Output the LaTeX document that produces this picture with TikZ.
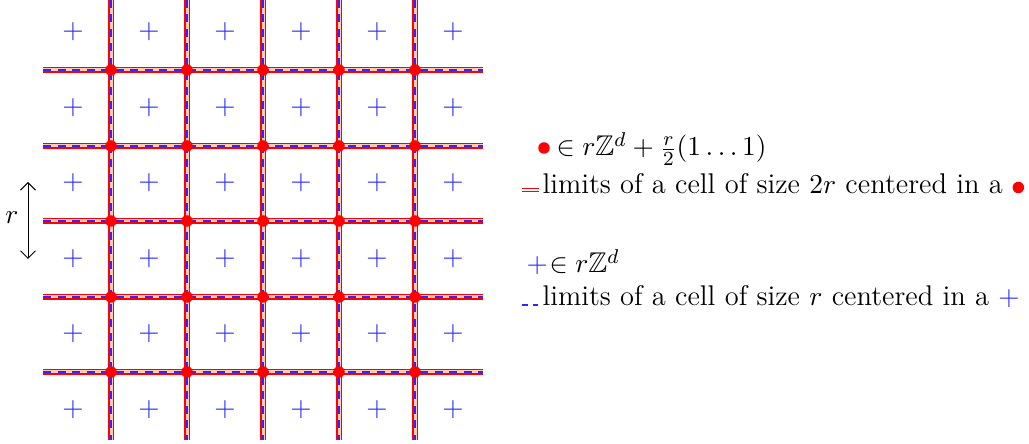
\documentclass[tikz,border=0pt]{standalone}
\usepackage{amsmath,amssymb}
\usetikzlibrary{arrows.meta}
\definecolor{cellinner}{RGB}{255,200,185}
\definecolor{plusblue}{RGB}{40,40,255}
\newcommand{\legfont}{\fontsize{11.4}{14}\selectfont}
\tikzset{
  bigcell/.style={draw=red,double=cellinner,double distance=1.2pt,line width=0.5pt},
  smallcell/.style={draw=plusblue,line width=0.7pt,dash pattern=on 3.2pt off 2.6pt},
  reddot/.style={circle,fill=red,inner sep=0pt,minimum size=4.6pt},
  plusmark/.style={text=plusblue,inner sep=0pt,font=\legfont},
  legendtext/.style={anchor=base west,inner sep=0pt,font=\legfont},
}
\begin{document}
\begin{tikzpicture}[x=0.4pt,y=-0.4pt]
\useasboundingbox (0,0) rectangle (1029,444);
\def\ys{{70,146,221,297,372}}
\def\py{{32,108,183,259,334,410}}
% red double lines
\foreach \i in {0,...,4}{
  \pgfmathsetmacro{\yy}{\ys[\i]}
  \draw[bigcell] (111+76*\i,0) -- (111+76*\i,440);
  \draw[bigcell] (43,\yy) -- (483,\yy);
}
% blue dashed lines
\foreach \i in {0,...,4}{
  \pgfmathsetmacro{\yy}{\ys[\i]}
  \draw[smallcell] (111+76*\i,0) -- (111+76*\i,440);
  \draw[smallcell] (43,\yy) -- (483,\yy);
}
% dots
\foreach \i in {0,...,4}{
  \foreach \j in {0,...,4}{
    \pgfmathsetmacro{\yy}{\ys[\j]}
    \node[reddot] (d\i\j) at (111+76*\i,\yy) {};
  }
}
% pluses
\foreach \i in {0,...,5}{
  \foreach \j in {0,...,5}{
    \pgfmathsetmacro{\yy}{\py[\j]}
    \node[plusmark] (p\i\j) at (73+76*\i,\yy) {$+$};
  }
}
% r arrow
\coordinate (rtop) at (28,182);
\coordinate (rbot) at (28,259);
\draw[{Straight Barb[length=3pt]}-{Straight Barb[length=3pt]},line width=0.4pt] (rtop) -- (rbot);
\node[font=\legfont] (rlab) at (12,218) {$r$};
% legend
\node[reddot] (ldot) at (544,148) {};
\node[legendtext] (l1) at (556,156) {$\in r\mathbb{Z}^d+\frac{r}{2}(1\ldots1)$};
\coordinate (ls1) at (522,190);
\coordinate (le1) at (539,190);
\draw[red,double=white,double distance=1pt,line width=0.35pt] (ls1) -- (le1);
\node[legendtext] (l2) at (542,194) {limits of a cell of size $2r$ centered in a};
\node[reddot] (ldot2) at ([xshift=6pt,yshift=2.6pt]l2.base east) {};
\node[legendtext,text=plusblue] (lp) at (526,273) {$+$};
\node[legendtext] (l3) at (549,273) {$\in r\mathbb{Z}^d$};
\coordinate (ls2) at (522,305);
\coordinate (le2) at (538,305);
\draw[plusblue,line width=0.5pt,dash pattern=on 2.5pt off 1.7pt] (ls2) -- (le2);
\node[legendtext] (l4) at (542,306) {limits of a cell of size $r$ centered in a \textcolor{plusblue}{$+$}};
\end{tikzpicture}
\end{document}
